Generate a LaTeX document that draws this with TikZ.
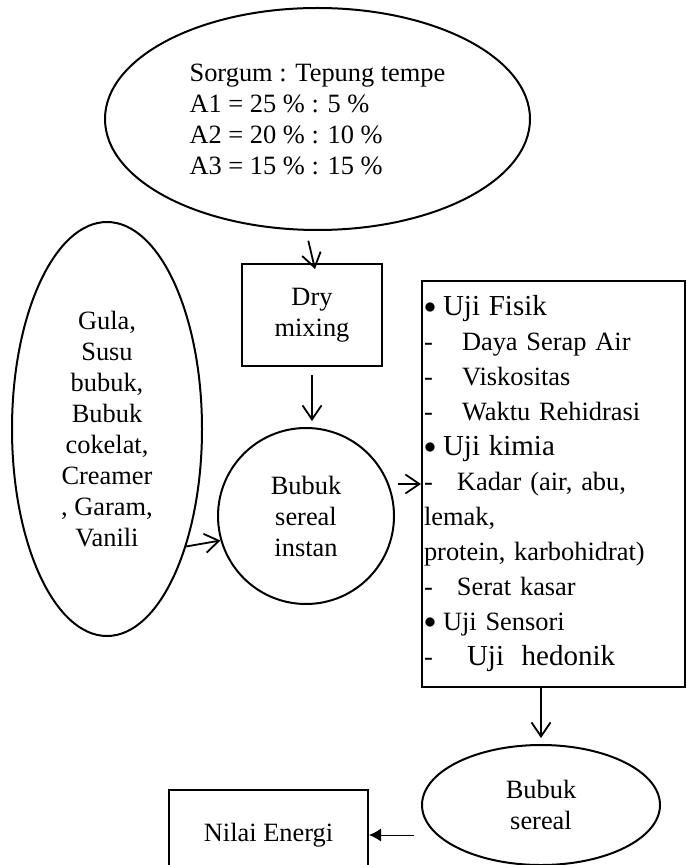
\documentclass[tikz,border=0pt]{standalone}
\usepackage{fontspec}
\setmainfont{Liberation Serif}
\usepackage{tikz}
\usetikzlibrary{positioning, shapes.geometric, arrows.meta}

\newcommand{\besar}{\fontsize{14.5}{17.5}\selectfont}
\newcommand{\titik}{\makebox[9.5pt][l]{\raisebox{1.2pt}{$\bullet$}}}

\begin{document}
\begin{tikzpicture}[
        x=0.5pt, y=-0.5pt,
        node distance=10pt,
        teks/.style={font=\fontsize{13.2}{15.5}\selectfont},
        oval/.style={draw, ellipse, line width=1pt, inner sep=0pt, align=center, teks},
        bulat/.style={draw, circle, line width=1pt, inner sep=0pt, align=center, teks},
        box/.style={draw, rectangle, line width=1pt, inner sep=0pt, align=center, teks},
        arrow/.style={-{Straight Barb[length=7pt, width=9.5pt]}, line width=0.9pt},
        tip/.style={-{Latex[length=6pt, width=6.5pt]}, line width=0.5pt}
    ]
    \useasboundingbox (0,0) rectangle (688,865);

    % Bahan
    \node[oval, minimum width=212.5pt, minimum height=111pt, align=left] (sorgum) at (317.5,119)
        {Sorgum : Tepung tempe\\A1 = 25 \% : 5 \%\\A2 = 20 \% : 10 \%\\A3 = 15 \% : 15 \%};
    \node[box, minimum width=70pt, minimum height=51pt, below=16pt of sorgum, xshift=-2.75pt] (dry) {Dry\\mixing};
    \node[bulat, minimum size=88pt, below=30pt of dry, xshift=-3pt] (instan) {Bubuk\\sereal\\instan};
    \node[oval, minimum width=95pt, minimum height=207pt, left=7pt of instan, yshift=43.5pt] (gula)
        {Gula,\\Susu\\bubuk,\\Bubuk\\cokelat,\\Creamer\\, Garam,\\Vanili};

    % Pengujian
    \node[box, minimum width=131.5pt, minimum height=203pt, text width=129.5pt, inner sep=1pt, align=left,
          font=\fontsize{13.2}{17.5}\selectfont, right=13pt of instan, yshift=16pt] (uji)
        {\titik{\besar Uji Fisik}\\
         \makebox[19pt][l]{-}Daya Serap Air\\
         \makebox[19pt][l]{-}Viskositas\\
         \makebox[19pt][l]{-}Waktu Rehidrasi\\
         \titik{\besar Uji kimia}\\
         \makebox[16.5pt][l]{-}Kadar (air, abu,\\
         lemak,\\
         protein, karbohidrat)\\
         \makebox[16.5pt][l]{-}Serat kasar\\
         \titik Uji Sensori\\
         \makebox[21.5pt][l]{-}{\besar Uji\ \ hedonik}};
    \node[oval, minimum width=119pt, minimum height=60pt, below=28pt of uji, xshift=-6.25pt] (sereal) {Bubuk\\sereal};
    \node[box, minimum width=99.5pt, minimum height=45pt, left=26pt of sereal, yshift=-15pt] (nilai) {Nilai Energi};

    % Arrows
    \draw[arrow, shorten <=5pt] ([xshift=-5.75pt]sorgum.south) -- ([xshift=1.5pt, yshift=-3pt]dry.north);
    \draw[arrow, shorten <=4pt, shorten >=3pt] (dry.south) -- (dry.south |- instan.north);
    \draw[arrow] (gula.-56) -- (instan.196);
    \draw[arrow, shorten <=1.5pt] (instan.east |- uji.west) -- (uji.west);
    \draw[arrow, shorten >=3pt] (sereal.north |- uji.south) -- (sereal.north);
    \draw[tip, shorten <=3.5pt] (sereal.west |- nilai.east) -- (nilai.east);
\end{tikzpicture}
\end{document}
